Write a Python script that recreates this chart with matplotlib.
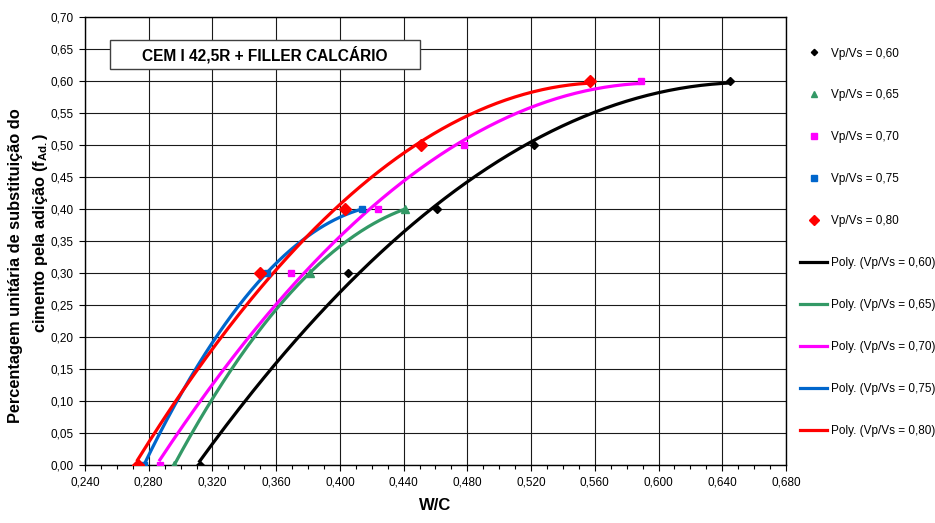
import numpy as np
import matplotlib
matplotlib.use('Agg')
import matplotlib.pyplot as plt
from matplotlib.patches import Rectangle
from matplotlib.ticker import MultipleLocator, FuncFormatter

plt.rcParams['font.family'] = ['Liberation Sans', 'DejaVu Sans']
plt.rcParams['mathtext.default'] = 'regular'

# W/C values and substitution fraction for each Vp/Vs ratio
wc_060 = [0.312, 0.405, 0.461, 0.522, 0.645]
fad_060 = [0.00, 0.30, 0.40, 0.50, 0.60]

wc_065 = [0.296, 0.381, 0.441]
fad_065 = [0.00, 0.30, 0.40]

wc_070 = [0.287, 0.369, 0.424, 0.478, 0.589]
fad_070 = [0.00, 0.30, 0.40, 0.50, 0.60]

wc_075 = [0.277, 0.354, 0.414]
fad_075 = [0.00, 0.30, 0.40]

wc_080 = [0.273, 0.350, 0.403, 0.451, 0.557]
fad_080 = [0.00, 0.30, 0.40, 0.50, 0.60]

ratios = ['0,60', '0,65', '0,70', '0,75', '0,80']
colors = ['#000000', '#339966', '#FF00FF', '#0066CC', '#FF0000']
markers = ['D', '^', 's', 's', 'D']
msizes = [4, 6, 5, 5, 6]

series = [(wc_060, fad_060), (wc_065, fad_065), (wc_070, fad_070),
          (wc_075, fad_075), (wc_080, fad_080)]

fig = plt.figure(figsize=(9.35, 5.23), dpi=100)
ax = fig.add_axes([0.0909, 0.1109, 0.7497, 0.8566])

point_handles = []
line_handles = []
for (x, y), r, c, m, ms in zip(series, ratios, colors, markers, msizes):
    x = np.array(x)
    y = np.array(y)
    # second order polynomial trendline
    coef = np.polyfit(x, y, 2)
    xs = np.linspace(x.min(), x.max(), 200)
    ln, = ax.plot(xs, np.polyval(coef, xs), color=c, lw=2.3, zorder=3,
                  label='Poly. (Vp/Vs = %s)' % r)
    pt, = ax.plot(x, y, linestyle='none', marker=m, ms=ms, color=c,
                  zorder=4, label='Vp/Vs = %s' % r)
    point_handles.append(pt)
    line_handles.append(ln)

ax.set_xlim(0.24, 0.68)
ax.set_ylim(0.0, 0.70)
ax.xaxis.set_major_locator(MultipleLocator(0.04))
ax.xaxis.set_minor_locator(MultipleLocator(0.01))
ax.yaxis.set_major_locator(MultipleLocator(0.05))
ax.xaxis.set_major_formatter(FuncFormatter(lambda v, p: ('%.3f' % v).replace('.', ',')))
ax.yaxis.set_major_formatter(FuncFormatter(lambda v, p: ('%.2f' % v).replace('.', ',')))
ax.tick_params(axis='both', which='major', labelsize=8.5, length=4, width=0.8,
               direction='out', pad=4)
ax.tick_params(axis='x', which='minor', length=3, width=0.8, direction='out')
ax.grid(True, which='major', color='#1a1a1a', lw=0.8)
for s in ax.spines.values():
    s.set_color('black')
    s.set_linewidth(1.0)

# title box
ax.add_patch(Rectangle((0.0357, 0.884), 0.442, 0.0647, transform=ax.transAxes,
                       facecolor='white', edgecolor='#404040', lw=1.0, zorder=5))
ax.text(0.257, 0.9165, 'CEM I 42,5R + FILLER CALCÁRIO', transform=ax.transAxes,
        ha='center', va='center', fontsize=11.2, fontweight='bold', zorder=6)

# two-line y label
fig.text(16 / 935, 1 - 266 / 523, 'Percentagem unitária de substituição do',
         rotation=90, ha='center', va='center', fontsize=11.8, fontweight='bold')
fig.text(41 / 935, 1 - 233 / 523, 'cimento pela adição (f$_{Ad.}$)',
         rotation=90, ha='center', va='center', fontsize=11.8, fontweight='bold')
fig.text(435 / 935, 1 - 505 / 523, 'W/C', ha='center', va='center',
         fontsize=12, fontweight='bold')

fig.legend(handles=point_handles + line_handles, loc='upper left',
           bbox_to_anchor=(800 / 935, 1 - 47.5 / 523), frameon=False,
           fontsize=8.5, handlelength=2.3, handletextpad=0.3, markerscale=0.8,
           labelspacing=2.54, borderpad=0, borderaxespad=0)

fig.savefig('out.png', dpi=100)
